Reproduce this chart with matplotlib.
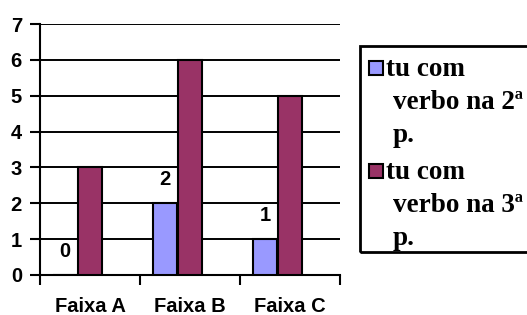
import numpy as np
import matplotlib.pyplot as plt
from matplotlib.patches import Rectangle

categories = ['Faixa A', 'Faixa B', 'Faixa C']
series_names = ['tu com\nverbo na 2ª\np.', 'tu com\nverbo na 3ª\np.']
valores_2p = [0, 2, 1]
valores_3p = [3, 6, 5]
cores = ['#9999FF', '#993366']

fig = plt.figure(figsize=(5.27, 3.15), dpi=100)
ax = fig.add_axes([40/527, 1-275/315, 300/527, 251/315])

x = np.arange(len(categories))
largura = 0.24

# barras
ax.bar(x - 0.25, valores_2p, largura, color=cores[0], edgecolor='black', linewidth=1.5, zorder=3)
ax.bar(x, valores_3p, largura, color=cores[1], edgecolor='black', linewidth=1.5, zorder=3)

# rotulos so na primeira serie
for xi, v in zip(x, valores_2p):
    ax.text(xi - 0.25, v + 0.65, str(v), ha='center', va='center',
            fontfamily='Liberation Sans', fontweight='bold', fontsize=14.5)

ax.set_xlim(-0.5, 2.5)
ax.set_ylim(0, 7)
ax.set_yticks(range(8))
ax.yaxis.grid(True, color='black', linewidth=1.4)
ax.set_axisbelow(True)

# ticks nas divisas das categorias, rotulos no centro
ax.set_xticks([-0.5, 0.5, 1.5, 2.5])
ax.set_xticklabels([])
ax.set_xticks(x, minor=True)
ax.set_xticklabels(categories, minor=True)
ax.tick_params(axis='x', which='major', length=7, width=1.5, direction='out')
ax.tick_params(axis='x', which='minor', length=0, pad=16)
ax.tick_params(axis='y', length=7, width=1.5, pad=6)
for lbl in ax.get_xticklabels(minor=True) + ax.get_yticklabels():
    lbl.set_fontfamily('Liberation Sans')
    lbl.set_fontweight('bold')
    lbl.set_fontsize(14.5)

for s in ['top', 'right']:
    ax.spines[s].set_visible(False)
for s in ['left', 'bottom']:
    ax.spines[s].set_linewidth(1.5)

# legenda desenhada a mao
W, H = 527, 315
fig.add_artist(Rectangle((360/W, 1-252/H), 170/W, 206/H, transform=fig.transFigure,
                         fill=False, edgecolor='black', linewidth=2))
topos = [61, 164]
for i, nome in enumerate(series_names):
    y0 = topos[i]
    fig.add_artist(Rectangle((369/W, 1-(y0+14)/H), 14/W, 14/H, transform=fig.transFigure,
                             facecolor=cores[i], edgecolor='black', linewidth=1.5))
    linhas = nome.split('\n')
    for j, linha in enumerate(linhas):
        xx = 386 if j == 0 else 393
        yb = y0 + 15 + j * 33
        fig.text(xx/W, 1-yb/H, linha, ha='left', va='baseline',
                 fontfamily='Liberation Serif', fontweight='bold', fontsize=19.5)

fig.savefig('out.png', dpi=100)
